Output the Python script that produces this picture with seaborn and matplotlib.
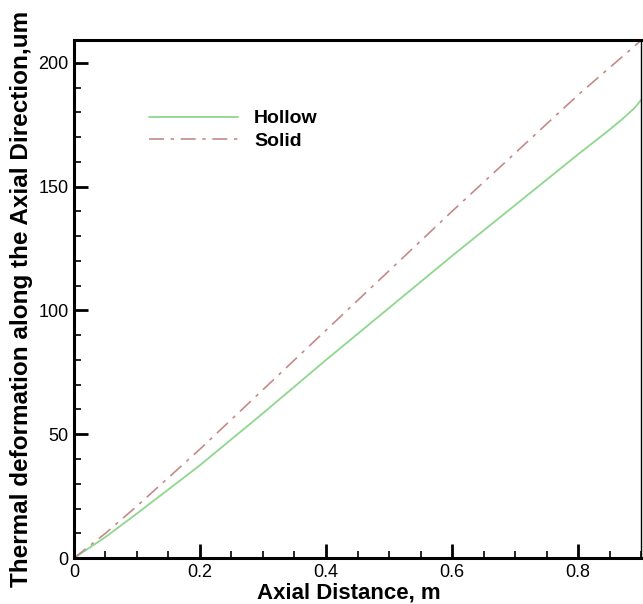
import numpy as np
import pandas as pd
import matplotlib
matplotlib.use("Agg")
import matplotlib.pyplot as plt
from matplotlib.ticker import MultipleLocator
import seaborn as sns

# values
x_hollow = [0.0, 0.05, 0.1, 0.2, 0.3, 0.4, 0.5, 0.6, 0.7, 0.8, 0.85, 0.87, 0.89, 0.9]
y_hollow = [0.0, 8.5, 18.0, 37.5, 58.5, 80.0, 101.0, 122.0, 142.5, 163.0, 173.0, 177.2, 181.8, 185.0]
x_solid = [0.0, 0.05, 0.1, 0.2, 0.3, 0.4, 0.5, 0.6, 0.7, 0.8, 0.9]
y_solid = [0.0, 10.0, 21.0, 44.0, 68.0, 92.0, 116.0, 140.0, 163.5, 187.0, 209.0]

hollow_df = pd.DataFrame({"x": x_hollow, "y": y_hollow})
solid_df = pd.DataFrame({"x": x_solid, "y": y_solid})

sns.set_style("ticks")
plt.rcParams["font.family"] = ["Liberation Sans", "DejaVu Sans"]
plt.rcParams.update({"text.color": "black", "axes.labelcolor": "black",
                     "xtick.color": "black", "ytick.color": "black",
                     "axes.edgecolor": "black"})

fig = plt.figure(figsize=(6.43, 6.04), dpi=100)
ax = fig.add_axes([0.115, 0.076, 0.882, 0.857])

sns.lineplot(data=hollow_df, x="x", y="y", ax=ax, color="#8fd68f", lw=1.3,
             label="Hollow", sort=False)
sns.lineplot(data=solid_df, x="x", y="y", ax=ax, color="#c48a8a", lw=1.2,
             label="Solid", sort=False)
ax.lines[1].set_dashes([9, 4, 2, 4])

ax.set_xlim(0, 0.9)
ax.set_ylim(0, 209)
ax.xaxis.set_major_locator(MultipleLocator(0.2))
ax.xaxis.set_minor_locator(MultipleLocator(0.05))
ax.yaxis.set_major_locator(MultipleLocator(50))
ax.yaxis.set_minor_locator(MultipleLocator(10))
ax.xaxis.set_major_formatter(plt.FuncFormatter(lambda v, p: "0" if v == 0 else f"{v:g}"))

ax.tick_params(which="major", direction="in", length=10, width=2, labelsize=13, pad=4)
ax.tick_params(which="minor", direction="in", length=5, width=1.2)
for side in ["left", "bottom", "top"]:
    ax.spines[side].set_linewidth(2.2)
ax.spines["right"].set_linewidth(1.0)

ax.set_xlabel("Axial Distance, m", fontsize=16, fontweight="bold")
ax.xaxis.set_label_coords(0.485, -0.048)
ax.set_ylabel("Thermal deformation along the Axial Direction,um", fontsize=17.5,
              fontweight="bold", labelpad=4)

leg = ax.legend(loc="upper left", bbox_to_anchor=(0.1015, 0.90), frameon=False,
                handlelength=4.6, handletextpad=0.8, labelspacing=0.26,
                prop={"size": 14, "weight": "bold"})

fig.savefig("out.png", dpi=100)
